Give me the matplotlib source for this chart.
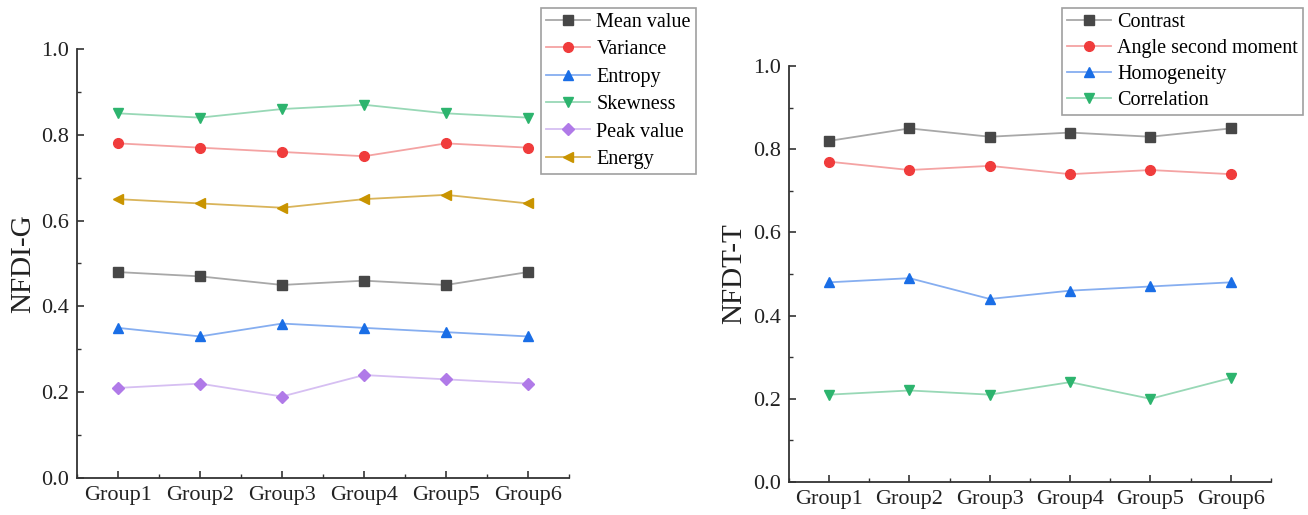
import matplotlib
matplotlib.use("Agg")
import matplotlib.pyplot as plt
from matplotlib.ticker import MultipleLocator, FixedLocator, FormatStrFormatter

plt.rcParams['font.family'] = ['Liberation Serif', 'DejaVu Serif']

groups = ["Group1", "Group2", "Group3", "Group4", "Group5", "Group6"]

# Left chart (NFDI-G)
mean_value = [0.48, 0.47, 0.45, 0.46, 0.45, 0.48]
variance = [0.78, 0.77, 0.76, 0.75, 0.78, 0.77]
entropy = [0.35, 0.33, 0.36, 0.35, 0.34, 0.33]
skewness = [0.85, 0.84, 0.86, 0.87, 0.85, 0.84]
peak_value = [0.21, 0.22, 0.19, 0.24, 0.23, 0.22]
energy = [0.65, 0.64, 0.63, 0.65, 0.66, 0.64]

# Right chart (NFDT-T)
contrast = [0.82, 0.85, 0.83, 0.84, 0.83, 0.85]
angle_second_moment = [0.77, 0.75, 0.76, 0.74, 0.75, 0.74]
homogeneity = [0.48, 0.49, 0.44, 0.46, 0.47, 0.48]
correlation = [0.21, 0.22, 0.21, 0.24, 0.20, 0.25]

# (line colour, marker colour, marker)
styles = {
    "black": ("#a8a8a8", "#474747", "s"),
    "red": ("#f4a3a3", "#f03c3c", "o"),
    "blue": ("#86aef0", "#1a6ee6", "^"),
    "green": ("#98d8b6", "#2db46e", "v"),
    "purple": ("#d6bff2", "#b07ae8", "D"),
    "gold": ("#d9b45a", "#c99400", "<"),
}

fig = plt.figure(figsize=(13.08, 5.15), dpi=100)

def setup(ax, ylabel, label_pad):
    x = list(range(len(groups)))
    ax.set_xlim(-0.5, 5.5)
    ax.set_ylim(0, 1.0)
    ax.xaxis.set_major_locator(FixedLocator(x))
    ax.set_xticklabels(groups)
    ax.xaxis.set_minor_locator(FixedLocator([i + 0.5 for i in range(-1, 6)]))
    ax.yaxis.set_major_locator(MultipleLocator(0.2))
    ax.yaxis.set_minor_locator(MultipleLocator(0.1))
    ax.yaxis.set_major_formatter(FormatStrFormatter('%.1f'))
    ax.spines['top'].set_visible(False)
    ax.spines['right'].set_visible(False)
    for s in ('left', 'bottom'):
        ax.spines[s].set_linewidth(1.3)
        ax.spines[s].set_color('#333333')
    ax.tick_params(which='major', direction='in', length=5, width=1.2,
                   labelsize=16, colors='#333333', labelcolor='#222222', pad=6)
    ax.tick_params(which='minor', direction='in', length=3, width=1.0, colors='#333333')
    ax.set_ylabel(ylabel, fontsize=21, labelpad=label_pad, color='#222222')

def plot_series(ax, data, key, label):
    lc, mc, m = styles[key]
    x = list(range(len(groups)))
    ms = 7 if m != 'D' else 6
    ax.plot(x, data, color=lc, lw=1.3, zorder=2)
    ax.plot(x, data, ls='none', marker=m, ms=ms, color=mc, mec=mc, zorder=3)
    ax.plot([], [], color=lc, lw=1.3, marker=m, ms=ms, mfc=mc, mec=mc, label=label)

def add_legend(ax, x0, spacing):
    leg = ax.legend(loc='upper left', bbox_to_anchor=(x0 / 1308, 1 - 8 / 515),
                    bbox_transform=fig.transFigure, fontsize=14.5, frameon=True,
                    fancybox=False, edgecolor='#888888', borderpad=0.25,
                    labelspacing=spacing, handlelength=2.2, handletextpad=0.3,
                    borderaxespad=0)
    leg.get_frame().set_linewidth(1.2)
    return leg

ax1 = fig.add_axes([0.0589, 0.0718, 0.3761, 0.8331])
plot_series(ax1, mean_value, "black", "Mean value")
plot_series(ax1, variance, "red", "Variance")
plot_series(ax1, entropy, "blue", "Entropy")
plot_series(ax1, skewness, "green", "Skewness")
plot_series(ax1, peak_value, "purple", "Peak value")
plot_series(ax1, energy, "gold", "Energy")
setup(ax1, "NFDI-G", 3)
add_legend(ax1, 541, 0.41)

ax2 = fig.add_axes([0.6032, 0.0641, 0.3685, 0.8077])
plot_series(ax2, contrast, "black", "Contrast")
plot_series(ax2, angle_second_moment, "red", "Angle second moment")
plot_series(ax2, homogeneity, "blue", "Homogeneity")
plot_series(ax2, correlation, "green", "Correlation")
setup(ax2, "NFDT-T", 4)
add_legend(ax2, 1062, 0.34)

fig.savefig("out.png", dpi=100)
